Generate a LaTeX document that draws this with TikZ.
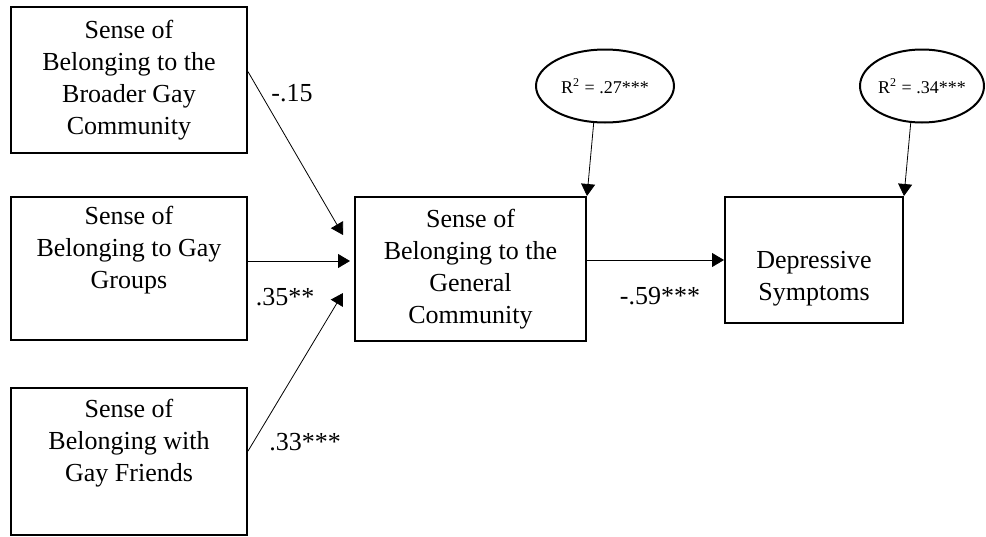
\documentclass[tikz,border=0pt]{standalone}
\usepackage{fontspec}
\setmainfont{Liberation Serif}
\usetikzlibrary{arrows.meta,shapes.geometric}

\begin{document}
\begin{tikzpicture}[x=0.5pt,y=-0.5pt,
  >={Triangle[length=6pt,width=7pt]},
  var/.style={draw,line width=1pt,align=center,inner sep=0pt,font=\fontsize{13}{16}\selectfont},
  resid/.style={draw,ellipse,line width=1pt,inner sep=0pt,font=\fontsize{9}{11}\selectfont},
  coef/.style={font=\fontsize{13}{16}\selectfont}]
\useasboundingbox (0,0) rectangle (986,536);

\node[var,minimum width=118pt,minimum height=73pt] (broad) at (129,80) {Sense of\\Belonging to the\\Broader Gay\\Community};
\node[var,minimum width=118pt,minimum height=71.5pt] (groups) at (129,268.5) {Sense of\\Belonging to Gay\\Groups\\\strut};
\node[var,minimum width=118pt,minimum height=73.5pt] (friends) at (129,461.5) {Sense of\\Belonging with\\Gay Friends\\\strut};

\node[var,minimum width=115.5pt,minimum height=72pt] (gen) at (470.5,269) {Sense of\\Belonging to the\\General\\Community};
\node[var,minimum width=89pt,minimum height=63pt] (dep) at (814,260) {\strut\\Depressive\\Symptoms};

\node[resid,minimum width=69pt,minimum height=36.5pt] (r1) at (605,86) {R\textsuperscript{2} = .27***};
\node[resid,minimum width=62pt,minimum height=36.5pt] (r2) at (922,86) {R\textsuperscript{2} = .34***};

\coordinate (t1) at (343,235);
\coordinate (t2) at (350,261);
\coordinate (t3) at (343,293);

\draw[->] (broad.4) -- (t1);
\draw[->] (groups.east |- t2) -- (t2);
\draw[->] (friends.5) -- (t3);
\draw[->] (gen.east |- dep.west) -- (dep.west);

\draw[->] (r1.253) -- (gen.north east);
\draw[->] (r2.253) -- (dep.north east);

\node[coef] (c1) at (292,93) {-.15};
\node[coef] (c2) at (285,297) {.35**};
\node[coef] (c3) at (305,442) {.33***};
\node[coef] (c4) at (660,296) {-.59***};
\end{tikzpicture}
\end{document}
